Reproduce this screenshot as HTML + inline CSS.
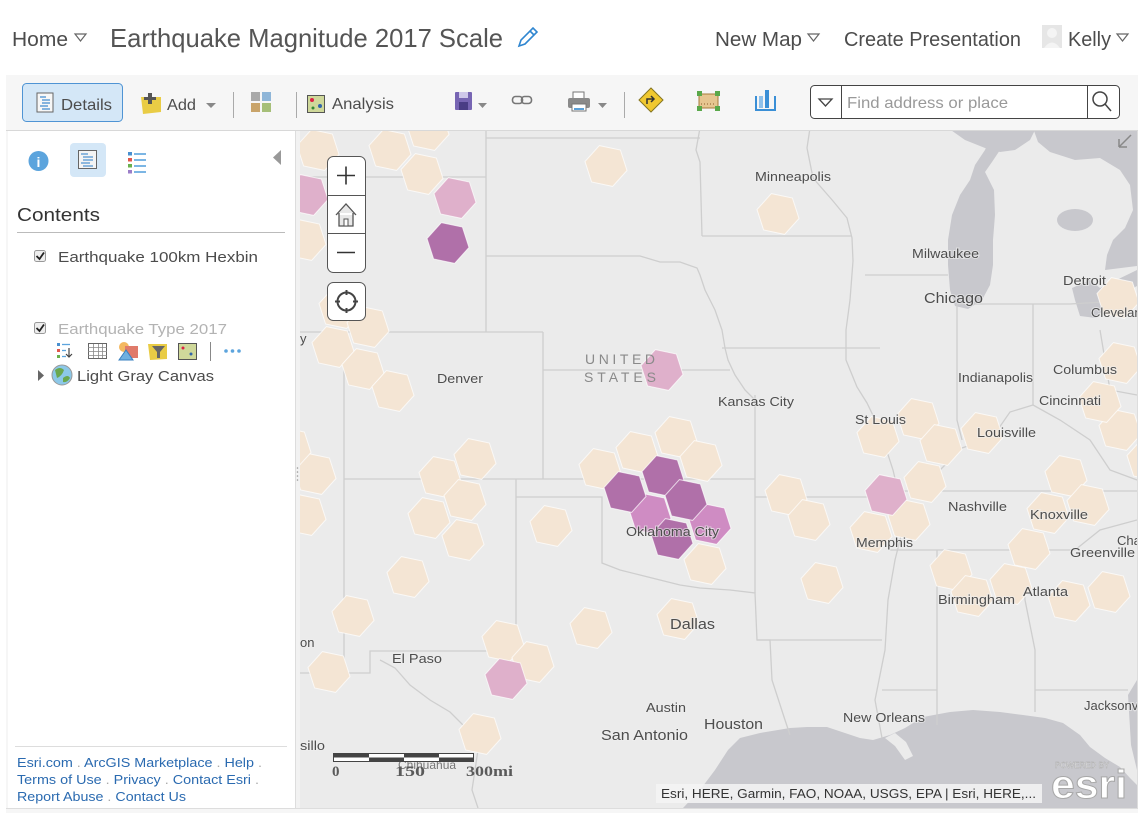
<!DOCTYPE html>
<html><head><meta charset="utf-8"><style>
html,body{margin:0;padding:0;background:#fff;width:1144px;height:816px;overflow:hidden}
svg{display:block;font-family:"Liberation Sans",sans-serif}
</style></head><body>
<svg width="1144" height="816" viewBox="0 0 1144 816" xmlns="http://www.w3.org/2000/svg">
<defs>
<polygon id="hx" points="21,4.5 6.6,20.4 -14.4,16 -21,-4.5 -6.6,-20.4 14.4,-16"/>
<clipPath id="mc"><rect x="300" y="131" width="837" height="677"/></clipPath>
</defs>
<rect width="1144" height="816" fill="#fff"/>

<!-- HEADER -->
<g fill="#4c4c4c" font-size="20">
<text x="12" y="46" textLength="56" lengthAdjust="spacingAndGlyphs">Home</text>
<text x="715" y="46" textLength="87" lengthAdjust="spacingAndGlyphs">New Map</text>
<text x="844" y="46" textLength="177" lengthAdjust="spacingAndGlyphs">Create Presentation</text>
<text x="1068" y="46" textLength="43" lengthAdjust="spacingAndGlyphs">Kelly</text>
</g>
<g fill="none" stroke="#666" stroke-width="1.2">
<polygon points="75,34 86,34 80.5,41"/>
<polygon points="808,34 819,34 813.5,41"/>
<polygon points="1117,34 1128,34 1122.5,41"/>
</g>
<text x="110" y="47" font-size="26" fill="#555" textLength="393" lengthAdjust="spacingAndGlyphs">Earthquake Magnitude 2017 Scale</text>
<g stroke="#2f86d0" stroke-width="1.6" fill="none"><path d="M519,46 L521,40 L533,28 L537,32 L525,44 Z M530,31 L534,35"/></g>
<rect x="1042" y="25" width="20" height="23" fill="#e6e6e6"/>
<circle cx="1052" cy="33" r="5" fill="#f4f4f4"/>
<path d="M1044,48 Q1052,37 1060,48 Z" fill="#f4f4f4"/>

<!-- FRAME / TOOLBAR -->
<rect x="6" y="75" width="1132" height="738" fill="#f6f6f6"/>
<line x1="6" y1="130.5" x2="1138" y2="130.5" stroke="#d8d8d8"/>
<rect x="22.5" y="83.5" width="100" height="38" rx="4" fill="#d4e7f7" stroke="#4f94d4"/>
<rect x="37" y="93" width="16" height="19" fill="#f7f7f7" stroke="#666"/>
<g stroke="#4a90d0" stroke-width="1.3"><line x1="40" y1="97" x2="46" y2="97"/><line x1="42" y1="100" x2="50" y2="100"/><line x1="42" y1="103" x2="50" y2="103"/><line x1="40" y1="106" x2="48" y2="106"/><line x1="42" y1="109" x2="50" y2="109"/></g>
<g fill="#4c4c4c" font-size="16">
<text x="61" y="110" textLength="51" lengthAdjust="spacingAndGlyphs">Details</text>
<text x="167" y="110" textLength="29" lengthAdjust="spacingAndGlyphs">Add</text>
<text x="332" y="109" textLength="62" lengthAdjust="spacingAndGlyphs">Analysis</text>
</g>
<path d="M141,97 L161,97 L161,112 L143,114 Z" fill="#e9cc45"/>
<path d="M148,93 L152,93 L152,97 L156,97 L156,100 L152,100 L152,104 L148,104 L148,100 L144,100 L144,97 L148,97 Z" fill="#555"/>
<polygon points="206,103 216,103 211,108" fill="#888"/>
<line x1="233.5" y1="92" x2="233.5" y2="118" stroke="#aaa"/>
<rect x="251" y="92" width="9" height="9" fill="#a9a9a9"/><rect x="262" y="92" width="9" height="9" fill="#8fb6d8"/>
<rect x="251" y="103" width="9" height="9" fill="#c9a46a"/><rect x="262" y="103" width="9" height="9" fill="#a6bf78"/>
<line x1="296.5" y1="92" x2="296.5" y2="118" stroke="#aaa"/>
<rect x="307.5" y="95.5" width="17" height="17" fill="#cfd89a" stroke="#555"/>
<circle cx="312" cy="100" r="2" fill="#d24"/><circle cx="320" cy="106" r="2" fill="#36a"/><circle cx="313" cy="108" r="1.5" fill="#383"/>
<rect x="455" y="92" width="17" height="18" rx="1" fill="#7765b3"/>
<rect x="459" y="92" width="9" height="6" fill="#cfc8ea"/><rect x="459" y="102" width="9" height="8" fill="#4a3d85"/>
<polygon points="478,103 487,103 482.5,108" fill="#888"/>
<rect x="512.5" y="96.5" width="10" height="7" rx="3" fill="none" stroke="#777" stroke-width="1.6"/>
<rect x="521.5" y="96.5" width="10" height="7" rx="3" fill="none" stroke="#777" stroke-width="1.6"/>
<rect x="573" y="92" width="11" height="7" fill="#fff" stroke="#777"/>
<rect x="568" y="98" width="22" height="10" rx="2" fill="#8a8a8a"/>
<rect x="572" y="104" width="14" height="7" fill="#fff" stroke="#777"/>
<rect x="574" y="108" width="10" height="2" fill="#5aa0d8"/>
<polygon points="598,103 607,103 602.5,108" fill="#888"/>
<line x1="624.5" y1="92" x2="624.5" y2="118" stroke="#aaa"/>
<polygon points="651,88 663,100 651,112 639,100" fill="#f0c830" stroke="#857520"/>
<path d="M647,104 L647,99 L653,99 M651,96 L654,99 L651,102" fill="none" stroke="#333" stroke-width="1.5"/>
<rect x="699" y="94" width="19" height="14" fill="#e6c590" stroke="#a57a3a"/>
<g fill="#5aa84a"><rect x="697" y="91" width="5" height="5"/><rect x="715" y="91" width="5" height="5"/><rect x="697" y="106" width="5" height="5"/><rect x="715" y="106" width="5" height="5"/></g>
<line x1="701" y1="104" x2="716" y2="104" stroke="#8a5a2a" stroke-dasharray="1,2"/>
<path d="M756,96 L756,110 L775,110 L775,96" fill="none" stroke="#3a8fd6" stroke-width="2"/>
<rect x="765" y="90" width="4" height="18" fill="#3a8fd6"/><rect x="759" y="96" width="4" height="12" fill="#8ec0ea"/>
<rect x="810.5" y="85.5" width="309" height="33" rx="4" fill="#fff" stroke="#444"/>
<line x1="841.5" y1="86" x2="841.5" y2="118" stroke="#444"/>
<line x1="1087.5" y1="86" x2="1087.5" y2="118" stroke="#444"/>
<polygon points="819,99 832,99 825.5,106" fill="none" stroke="#444" stroke-width="1.3"/>
<text x="847" y="108" font-size="16" fill="#999" textLength="161" lengthAdjust="spacingAndGlyphs">Find address or place</text>
<circle cx="1100" cy="99" r="7" fill="none" stroke="#444" stroke-width="1.5"/>
<line x1="1105" y1="104" x2="1111" y2="111" stroke="#444" stroke-width="1.5"/>

<!-- LEFT PANEL -->
<rect x="8" y="131" width="287" height="677" fill="#fff"/>
<line x1="295.5" y1="131" x2="295.5" y2="808" stroke="#ddd"/>
<rect x="296" y="131" width="4" height="677" fill="#f2f2f2"/>
<g fill="#999"><circle cx="297.5" cy="468" r="0.8"/><circle cx="297.5" cy="472" r="0.8"/><circle cx="297.5" cy="476" r="0.8"/><circle cx="297.5" cy="480" r="0.8"/></g>
<circle cx="38.5" cy="161" r="10" fill="#5ca4dd"/>
<text x="38.5" y="167" font-size="14" font-weight="bold" fill="#fff" text-anchor="middle">i</text>
<rect x="70" y="143" width="36" height="34" rx="4" fill="#d4e7f7"/>
<rect x="78.5" y="150.5" width="18" height="18" fill="#f4f4f4" stroke="#666"/>
<g stroke="#4a90d0" stroke-width="1.2"><line x1="81" y1="154" x2="88" y2="154"/><line x1="83" y1="157" x2="93" y2="157"/><line x1="83" y1="160" x2="93" y2="160"/><line x1="81" y1="163" x2="90" y2="163"/><line x1="83" y1="166" x2="93" y2="166"/></g>
<rect x="128" y="152" width="4" height="3.5" fill="#4a90d0"/><rect x="128" y="158" width="4" height="3.5" fill="#e2574c"/><rect x="128" y="164" width="4" height="3.5" fill="#6ab04c"/><rect x="128" y="170" width="4" height="3.5" fill="#9b7ec8"/>
<g stroke="#5ca4dd" stroke-width="1.6"><line x1="134" y1="154" x2="146" y2="154"/><line x1="134" y1="160" x2="146" y2="160"/><line x1="134" y1="166" x2="146" y2="166"/><line x1="134" y1="172" x2="146" y2="172"/></g>
<polygon points="281,150 281,165 273,157.5" fill="#999"/>
<text x="17" y="221" font-size="18" fill="#333" textLength="83" lengthAdjust="spacingAndGlyphs">Contents</text>
<line x1="17" y1="232.5" x2="285" y2="232.5" stroke="#bbb"/>
<rect x="34.5" y="250.5" width="11" height="11" rx="2" fill="#eee" stroke="#999"/>
<path d="M36.5,256 L39.5,259 L44,252.5" fill="none" stroke="#222" stroke-width="1.8"/>
<text x="58" y="262" font-size="15" fill="#4c4c4c" textLength="200" lengthAdjust="spacingAndGlyphs">Earthquake 100km Hexbin</text>
<rect x="34.5" y="322.5" width="11" height="11" rx="2" fill="#eee" stroke="#999"/>
<path d="M36.5,328 L39.5,331 L44,324.5" fill="none" stroke="#222" stroke-width="1.8"/>
<text x="58" y="334" font-size="15" fill="#b3b3b3" textLength="169" lengthAdjust="spacingAndGlyphs">Earthquake Type 2017</text>
<g>
<rect x="57" y="343" width="3" height="3" fill="#4a90d0"/><rect x="57" y="349" width="3" height="3" fill="#e2574c"/><rect x="57" y="355" width="3" height="3" fill="#6ab04c"/>
<g stroke="#5ca4dd" stroke-width="1.3"><line x1="62" y1="344.5" x2="70" y2="344.5"/><line x1="62" y1="350.5" x2="66" y2="350.5"/><line x1="62" y1="356.5" x2="66" y2="356.5"/></g>
<path d="M69,348 L69,357 M66,354 L69,357 L72,354" stroke="#444" stroke-width="1.2" fill="none"/>
<rect x="88.5" y="343.5" width="18" height="15" fill="#fff" stroke="#666"/>
<g stroke="#888" stroke-width="0.8"><line x1="88" y1="347.5" x2="107" y2="347.5"/><line x1="88" y1="351.5" x2="107" y2="351.5"/><line x1="88" y1="355.5" x2="107" y2="355.5"/><line x1="93.5" y1="344" x2="93.5" y2="358"/><line x1="98.5" y1="344" x2="98.5" y2="358"/><line x1="102.5" y1="344" x2="102.5" y2="358"/></g>
<circle cx="124" cy="347" r="5" fill="#f4b860"/><rect x="125" y="346" width="13" height="12" fill="#e07a6a"/><polygon points="119,360 126,350 133,360" fill="#6fb0e0" stroke="#3a80c0"/>
<path d="M148,344 L167,344 L167,359 L150,360 Z" fill="#e9cc45"/><path d="M152,346 L165,346 L160,352 L160,358 L157,358 L157,352 Z" fill="#666"/>
<rect x="178.5" y="343.5" width="18" height="16" fill="#cfd89a" stroke="#555"/><circle cx="183" cy="348" r="1.5" fill="#d24"/><circle cx="191" cy="354" r="1.5" fill="#36a"/>
<line x1="210.5" y1="342" x2="210.5" y2="361" stroke="#888"/>
<g fill="#5ca4dd"><circle cx="226" cy="351" r="1.8"/><circle cx="232.5" cy="351" r="1.8"/><circle cx="239" cy="351" r="1.8"/></g>
</g>
<polygon points="38,370 38,381 44,375.5" fill="#666"/>
<circle cx="62" cy="375" r="10" fill="#8cc8e8" stroke="#999"/>
<path d="M55,370 Q60,366 64,370 Q62,376 57,378 Z M63,378 Q68,374 70,378 Q67,383 63,382 Z" fill="#6aa84f"/>
<text x="77" y="381" font-size="15" fill="#4c4c4c" textLength="137" lengthAdjust="spacingAndGlyphs">Light Gray Canvas</text>
<line x1="15" y1="746.5" x2="287" y2="746.5" stroke="#ddd"/>
<g font-size="13" fill="#2a6ab0">
<text x="17" y="767" textLength="245" lengthAdjust="spacingAndGlyphs">Esri.com <tspan fill="#aaa">.</tspan> ArcGIS Marketplace <tspan fill="#aaa">.</tspan> Help <tspan fill="#aaa">.</tspan></text>
<text x="17" y="784" textLength="242" lengthAdjust="spacingAndGlyphs">Terms of Use <tspan fill="#aaa">.</tspan> Privacy <tspan fill="#aaa">.</tspan> Contact Esri <tspan fill="#aaa">.</tspan></text>
<text x="17" y="801" textLength="169" lengthAdjust="spacingAndGlyphs">Report Abuse <tspan fill="#aaa">.</tspan> Contact Us</text>
</g>

<!-- MAP -->
<g clip-path="url(#mc)">
<rect x="300" y="131" width="837" height="677" fill="#ebebeb"/>
<g fill="#c8c8cd">
<polygon points="683,808 700,790 715,770 728,750 740,738 760,733 790,728 807,727 827,727 845,733 860,738 873,740 890,735 905,728 923,717 950,712 973,710 1000,712 1023,715 1045,718 1063,723 1080,735 1090,747 1105,758 1120,767 1130,778 1137,785 1137,808"/>
<polygon points="1128,695 1137,680 1137,770 1131,745"/>
<polygon points="997,132 1005,140 1000,150 992,162 985,172 994,190 995,215 993,240 993,265 990,285 982,300 968,309 955,306 950,290 948,265 948,240 952,215 960,195 970,180 975,165 985,150 990,138"/>
<polygon points="948,128 1036,128 1030,140 1015,150 1000,152 985,148 965,140"/>
<polygon points="1033,128 1137,128 1137,266 1105,270 1107,255 1113,240 1125,228 1133,210 1130,185 1120,170 1100,158 1075,160 1050,152 1038,142"/>
<ellipse cx="1075" cy="220" rx="18" ry="11"/>
<polygon points="1072,288 1090,280 1100,288 1137,270 1137,286 1112,300 1096,318 1080,316 1075,300"/>
</g>
<polygon points="885,738 895,733 906,742 913,756 905,760 895,746" fill="#ebebeb"/>
<g fill="none" stroke="#cecece" stroke-width="1.3">
<polyline points="300,177 486,177"/>
<polyline points="486,128 486,332"/>
<polyline points="486,138 700,138"/>
<polyline points="486,256 640,256 660,262 680,262 697,268 700,275 705,290 715,310 722,330 725,348 728,360 735,375 745,390 755,400"/>
<polyline points="700,128 696,150 700,162 702,236"/>
<polyline points="702,236 852,236"/>
<polyline points="722,348 845,348"/>
<polyline points="810,128 807,148 813,178 833,201 847,218 852,238 853,261 850,300 846,330 846,360 857,387 867,403 880,430 893,470 905,520 895,560 888,600 885,650 875,700 882,738"/>
<polyline points="300,332 543,332"/>
<polyline points="344,332 344,673"/>
<polyline points="543,332 543,479"/>
<polyline points="344,479 755,479"/>
<polyline points="543,370 730,370"/>
<polyline points="755,395 755,593"/>
<polyline points="755,497 893,497"/>
<polyline points="516,497 602,497 602,563 620,570 640,575 660,580 680,585 700,588 730,590 755,593 757,640 770,640 772,680 785,720 790,735"/>
<polyline points="757,640 882,640"/>
<polyline points="516,479 516,651 370,651 370,673 300,673"/>
<polyline points="380,660 395,668 410,685 430,700 450,712 468,730 478,750 472,790 478,808"/>
<polyline points="865,275 948,275"/>
<polyline points="957,304 1070,304"/>
<polyline points="957,304 957,420 962,440"/>
<polyline points="1033,304 1033,405"/>
<polyline points="1033,405 1010,412 992,438 962,448 940,470 905,482"/>
<polyline points="893,491 1137,491"/>
<polyline points="890,550 1075,550"/>
<polyline points="937,550 937,725"/>
<polyline points="1022,550 1025,600 1035,650 1035,712"/>
<polyline points="1033,405 1060,420 1090,440 1110,470 1137,480"/>
<polyline points="1075,550 1100,530 1137,520"/>
<polyline points="882,690 937,690"/>
<polyline points="1035,690 1128,690"/>
<polyline points="845,348 880,348"/>
<polyline points="1070,304 1137,300"/>
<polyline points="1100,330 1105,360 1110,390 1137,395"/>
</g>
<g stroke="#fff" stroke-width="1" stroke-opacity="0.7">
<g fill="#f4e5d4">
<use href="#hx" x="318" y="150"/><use href="#hx" x="390" y="150"/><use href="#hx" x="428" y="130"/><use href="#hx" x="422" y="174"/>
<use href="#hx" x="305" y="240"/><use href="#hx" x="340" y="308"/><use href="#hx" x="368" y="327"/><use href="#hx" x="333" y="347"/>
<use href="#hx" x="363" y="369"/><use href="#hx" x="393" y="391"/><use href="#hx" x="315" y="474"/><use href="#hx" x="305" y="515"/>
<use href="#hx" x="290" y="448"/>
<use href="#hx" x="440" y="477"/><use href="#hx" x="475" y="459"/><use href="#hx" x="465" y="500"/><use href="#hx" x="429" y="518"/>
<use href="#hx" x="463" y="540"/><use href="#hx" x="408" y="577"/><use href="#hx" x="353" y="616"/><use href="#hx" x="329" y="672"/>
<use href="#hx" x="503" y="641"/><use href="#hx" x="533" y="662"/><use href="#hx" x="551" y="526"/><use href="#hx" x="591" y="628"/>
<use href="#hx" x="480" y="734"/><use href="#hx" x="606" y="166"/><use href="#hx" x="778" y="214"/>
<use href="#hx" x="600" y="469"/><use href="#hx" x="637" y="452"/><use href="#hx" x="676" y="437"/><use href="#hx" x="701" y="461"/>
<use href="#hx" x="705" y="564"/><use href="#hx" x="786" y="495"/><use href="#hx" x="809" y="520"/><use href="#hx" x="822" y="583"/>
<use href="#hx" x="678" y="619"/>
<use href="#hx" x="878" y="437"/><use href="#hx" x="918" y="419"/><use href="#hx" x="941" y="445"/><use href="#hx" x="982" y="433"/>
<use href="#hx" x="925" y="482"/><use href="#hx" x="909" y="520"/><use href="#hx" x="871" y="532"/>
<use href="#hx" x="1066" y="476"/><use href="#hx" x="1088" y="505"/><use href="#hx" x="1048" y="513"/><use href="#hx" x="1029" y="549"/>
<use href="#hx" x="1011" y="584"/><use href="#hx" x="951" y="570"/><use href="#hx" x="972" y="596"/><use href="#hx" x="1069" y="601"/>
<use href="#hx" x="1109" y="592"/><use href="#hx" x="1120" y="430"/><use href="#hx" x="1100" y="402"/><use href="#hx" x="1120" y="363"/>
<use href="#hx" x="1118" y="298"/><use href="#hx" x="1148" y="460"/>
</g>
<g fill="#dfb0cb">
<use href="#hx" x="455" y="198"/><use href="#hx" x="307" y="195"/><use href="#hx" x="506" y="679"/><use href="#hx" x="662" y="370"/><use href="#hx" x="886" y="495"/>
</g>
<g fill="#cf8cc3">
<use href="#hx" x="650" y="514"/><use href="#hx" x="710" y="524"/>
</g>
<g fill="#b070a9">
<use href="#hx" x="448" y="243"/><use href="#hx" x="663" y="476"/><use href="#hx" x="625" y="492"/><use href="#hx" x="686" y="500"/><use href="#hx" x="672" y="539"/>
</g>
</g>
<g fill="#4d4d4d" font-size="13" stroke="#eeeeee" stroke-width="2" paint-order="stroke" stroke-opacity="0.6">
<text x="755" y="181" textLength="76" lengthAdjust="spacingAndGlyphs">Minneapolis</text>
<text x="912" y="258" textLength="67" lengthAdjust="spacingAndGlyphs">Milwaukee</text>
<text x="924" y="303" font-size="15" textLength="59" lengthAdjust="spacingAndGlyphs">Chicago</text>
<text x="1063" y="285" textLength="43" lengthAdjust="spacingAndGlyphs">Detroit</text>
<text x="1091" y="317">Cleveland</text>
<text x="437" y="383" textLength="46" lengthAdjust="spacingAndGlyphs">Denver</text>
<text x="718" y="406" textLength="76" lengthAdjust="spacingAndGlyphs">Kansas City</text>
<text x="855" y="424" textLength="51" lengthAdjust="spacingAndGlyphs">St Louis</text>
<text x="958" y="382" textLength="75" lengthAdjust="spacingAndGlyphs">Indianapolis</text>
<text x="1053" y="374" textLength="64" lengthAdjust="spacingAndGlyphs">Columbus</text>
<text x="1039" y="405" textLength="62" lengthAdjust="spacingAndGlyphs">Cincinnati</text>
<text x="977" y="437" textLength="59" lengthAdjust="spacingAndGlyphs">Louisville</text>
<text x="948" y="511" textLength="59" lengthAdjust="spacingAndGlyphs">Nashville</text>
<text x="1030" y="519" textLength="58" lengthAdjust="spacingAndGlyphs">Knoxville</text>
<text x="1117" y="545">Charlotte</text>
<text x="1070" y="557" textLength="65" lengthAdjust="spacingAndGlyphs">Greenville</text>
<text x="856" y="547" textLength="57" lengthAdjust="spacingAndGlyphs">Memphis</text>
<text x="626" y="536" textLength="93" lengthAdjust="spacingAndGlyphs">Oklahoma City</text>
<text x="938" y="604" textLength="77" lengthAdjust="spacingAndGlyphs">Birmingham</text>
<text x="1023" y="596" textLength="45" lengthAdjust="spacingAndGlyphs">Atlanta</text>
<text x="670" y="629" font-size="15" textLength="45" lengthAdjust="spacingAndGlyphs">Dallas</text>
<text x="392" y="663" textLength="50" lengthAdjust="spacingAndGlyphs">El Paso</text>
<text x="646" y="712" textLength="40" lengthAdjust="spacingAndGlyphs">Austin</text>
<text x="704" y="729" font-size="15" textLength="59" lengthAdjust="spacingAndGlyphs">Houston</text>
<text x="601" y="740" font-size="15" textLength="87" lengthAdjust="spacingAndGlyphs">San Antonio</text>
<text x="843" y="722" textLength="82" lengthAdjust="spacingAndGlyphs">New Orleans</text>
<text x="1084" y="710">Jacksonville</text>
<text x="300" y="343">y</text>
<text x="300" y="647">on</text>
<text x="300" y="750" textLength="25" lengthAdjust="spacingAndGlyphs">sillo</text>
<text x="398" y="769" fill="#777" font-size="12">Chihuahua</text>
</g>
<g fill="#8a8a8a" font-size="14">
<text x="585" y="364" textLength="70" lengthAdjust="spacing">UNITED</text>
<text x="584" y="382" textLength="72" lengthAdjust="spacing">STATES</text>
</g>
<rect x="327.5" y="156.5" width="38" height="116" rx="6" fill="#fff" stroke="#555"/>
<line x1="328" y1="195.5" x2="365" y2="195.5" stroke="#555"/>
<line x1="328" y1="233.5" x2="365" y2="233.5" stroke="#555"/>
<path d="M337,175.5 L355,175.5 M346,166.5 L346,184.5" stroke="#333" stroke-width="1.6"/>
<path d="M336,215 L346,204 L356,215 M339,213 L339,226 L353,226 L353,213" fill="#e8e8e8" stroke="#555" stroke-width="1.3"/>
<rect x="344" y="219" width="4" height="7" fill="#fff" stroke="#555"/>
<path d="M337,252.5 L355,252.5" stroke="#333" stroke-width="1.6"/>
<rect x="327.5" y="282.5" width="38" height="38" rx="6" fill="#fff" stroke="#555"/>
<circle cx="346.5" cy="301.5" r="9" fill="none" stroke="#444" stroke-width="2"/>
<path d="M346.5,290 L346.5,295 M346.5,308 L346.5,313 M335,301.5 L340,301.5 M353,301.5 L358,301.5" stroke="#444" stroke-width="2"/>
<path d="M1119,147 L1131,135 M1119,147 L1119,139 M1119,147 L1127,147" stroke="#888" stroke-width="1.5" fill="none"/>
<rect x="333.5" y="753.5" width="140" height="8" fill="#fff" stroke="#444"/>
<rect x="334" y="754" width="35" height="3.5" fill="#444"/><rect x="404" y="754" width="35" height="3.5" fill="#444"/>
<rect x="369" y="757.5" width="35" height="3.5" fill="#444"/><rect x="439" y="757.5" width="34" height="3.5" fill="#444"/>
<g font-family="Liberation Serif, serif" font-weight="bold" font-size="15" fill="#5a5a5a">
<text x="332" y="776">0</text><text x="395" y="776" textLength="30" lengthAdjust="spacingAndGlyphs">150</text><text x="466" y="776" textLength="47" lengthAdjust="spacingAndGlyphs">300mi</text>
</g>
<rect x="656" y="784" width="386" height="19" fill="#f4f4f4" fill-opacity="0.85"/>
<text x="661" y="798" font-size="12.5" fill="#333" textLength="375" lengthAdjust="spacingAndGlyphs">Esri, HERE, Garmin, FAO, NOAA, USGS, EPA | Esri, HERE,...</text>
<text x="1055" y="768" font-size="8" fill="#fff" stroke="#aaa" stroke-width="0.4">POWERED BY</text>
<text x="1051" y="798" font-size="40" font-weight="bold" fill="#fff" stroke="#a8a8a8" stroke-width="1" textLength="76" lengthAdjust="spacingAndGlyphs">esri</text>
</g>
<line x1="1137.5" y1="131" x2="1137.5" y2="808" stroke="#ddd"/>
<line x1="6" y1="808.5" x2="1138" y2="808.5" stroke="#ddd"/>
</svg>
</body></html>
